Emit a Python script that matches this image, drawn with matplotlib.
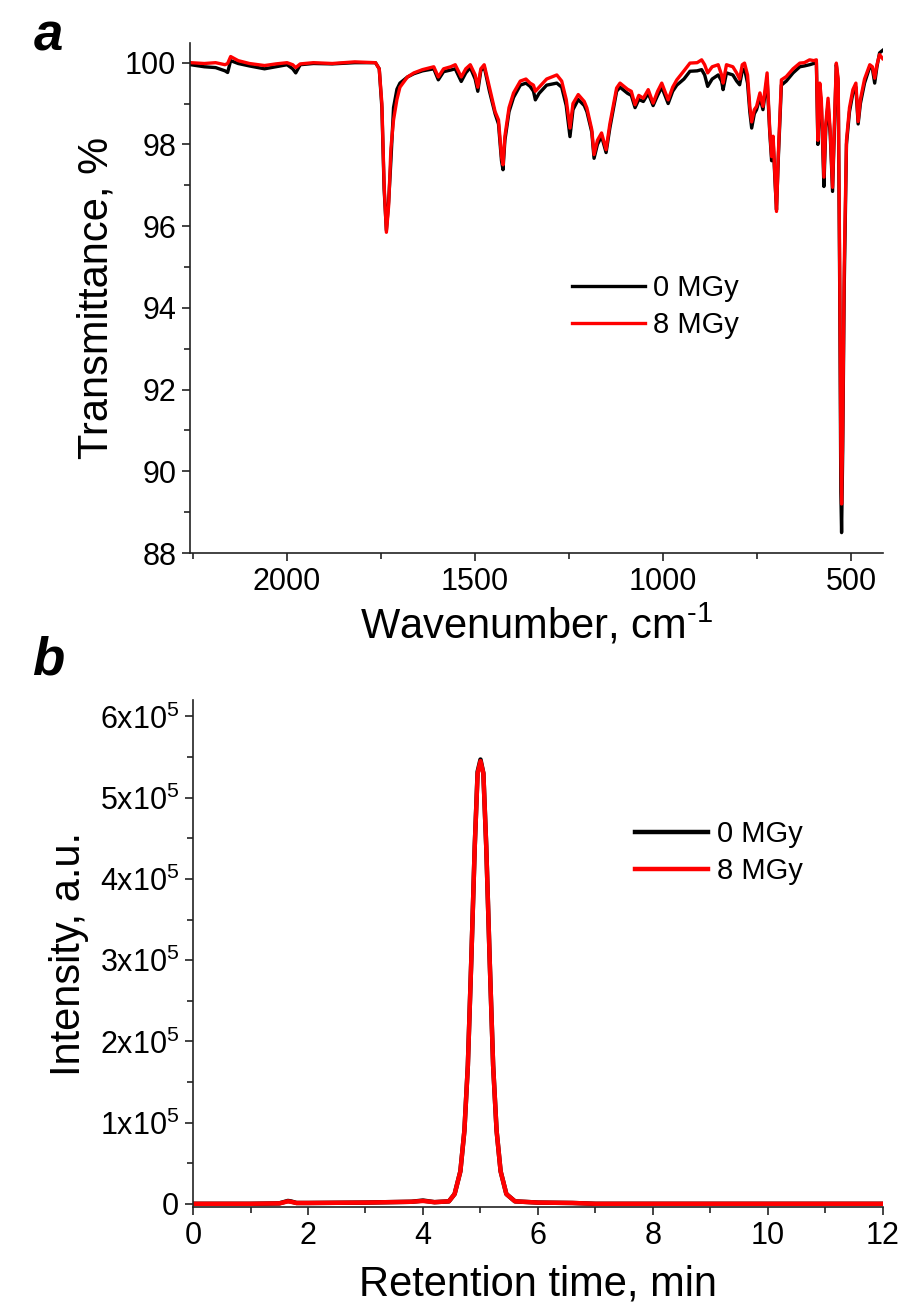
import numpy as np
import matplotlib
matplotlib.use("Agg")
import matplotlib.pyplot as plt
from matplotlib.ticker import MultipleLocator, FuncFormatter

plt.rcParams['font.family'] = ['Liberation Sans', 'DejaVu Sans']
plt.rcParams['mathtext.fontset'] = 'custom'
plt.rcParams['mathtext.rm'] = 'Liberation Sans'
plt.rcParams['mathtext.it'] = 'Liberation Sans:italic'

# IR spectra (wavenumber, cm-1) and transmittance (%)
wavenumber = [2256, 2220, 2190, 2165, 2158, 2150, 2130, 2100, 2060, 2030, 2000, 1985, 1977, 1965,
              1930, 1880, 1820, 1765, 1755, 1748, 1742, 1736, 1730, 1724, 1717, 1708, 1700, 1680,
              1663, 1640, 1610, 1598, 1584, 1565, 1553, 1537, 1525, 1513, 1500, 1493, 1485, 1476,
              1462, 1447, 1438, 1430, 1426, 1421, 1410, 1398, 1380, 1365, 1354, 1345, 1340, 1330,
              1310, 1283, 1270, 1258, 1248, 1240, 1226, 1210, 1203, 1190, 1184, 1175, 1164, 1152,
              1142, 1124, 1115, 1095, 1085, 1075, 1065, 1053, 1040, 1027, 1015, 1004, 987, 975,
              964, 945, 929, 910, 898, 890, 882, 870, 854, 845, 841, 832, 815, 805, 797, 790, 784,
              776, 770, 765, 758, 752, 743, 735, 730, 724, 717, 712, 708, 703, 699, 694, 686, 673,
              655, 637, 625, 611, 600, 593, 589, 584, 580, 576, 573, 568, 562, 556, 550, 545, 540,
              535, 531, 528, 526, 523, 519, 513, 505, 496, 488, 482, 476, 465, 451, 444, 438, 432,
              425, 417]
trans_8mgy = [100.00, 99.98, 100.00, 99.95, 99.98, 100.15, 100.05, 99.98, 99.93, 99.97, 100.00, 99.95,
              99.88, 99.97, 100.00, 99.98, 100.02, 100.00, 99.85, 99.0, 97.0, 95.85, 96.5, 97.9, 98.6,
              99.1, 99.4, 99.65, 99.75, 99.83, 99.9, 99.65, 99.85, 99.9, 99.95, 99.65, 99.85, 99.95,
              99.7, 99.4, 99.85, 99.95, 99.4, 98.8, 98.6, 97.7, 97.5, 98.2, 98.9, 99.26, 99.55, 99.6,
              99.5, 99.45, 99.3, 99.4, 99.6, 99.7, 99.55, 99.1, 98.4, 99.0, 99.22, 99.05, 98.89, 98.36,
              97.75, 98.1, 98.28, 97.87, 98.5, 99.38, 99.5, 99.35, 99.3, 98.97, 99.2, 99.13, 99.34,
              99.01, 99.3, 99.5, 99.09, 99.4, 99.58, 99.8, 99.99, 100.0, 100.07, 99.95, 99.75, 99.9,
              99.95, 99.7, 99.5, 99.95, 99.9, 99.75, 99.6, 99.95, 99.99, 99.7, 98.93, 98.55, 98.85,
              98.93, 99.26, 98.93, 99.3, 99.75, 98.36, 97.7, 98.2, 97.2, 96.36, 97.8, 99.58, 99.66,
              99.85, 99.99, 100.0, 100.07, 100.05, 100.07, 98.1, 99.5, 99.13, 98.0, 97.2, 98.5, 99.13,
              98.3, 96.95, 98.53, 99.99, 99.6, 95.0, 90.5, 89.2, 91.0, 95.0, 98.1, 98.9, 99.34, 99.5,
              98.56, 99.1, 99.6, 99.95, 99.9, 99.62, 99.95, 100.2, 100.1]
trans_0mgy = [99.95, 99.90, 99.88, 99.80, 99.76, 100.05, 99.98, 99.92, 99.85, 99.90, 99.95, 99.85,
              99.75, 99.95, 99.98, 99.97, 100.00, 100.00, 99.85, 98.9, 96.9, 95.9, 96.6, 97.6, 98.9,
              99.35, 99.5, 99.65, 99.73, 99.80, 99.85, 99.58, 99.78, 99.82, 99.85, 99.54, 99.75, 99.88,
              99.6, 99.3, 99.8, 99.9, 99.3, 98.75, 98.5, 97.6, 97.38, 98.1, 98.8, 99.15, 99.45, 99.5,
              99.42, 99.3, 99.09, 99.25, 99.45, 99.5, 99.4, 98.95, 98.19, 98.85, 99.1, 98.95, 98.8,
              98.3, 97.66, 98.0, 98.2, 97.8, 98.4, 99.3, 99.4, 99.25, 99.2, 98.9, 99.1, 99.05, 99.25,
              98.95, 99.2, 99.4, 99.0, 99.3, 99.45, 99.6, 99.79, 99.8, 99.83, 99.7, 99.42, 99.6, 99.7,
              99.55, 99.34, 99.75, 99.7, 99.55, 99.46, 99.8, 99.85, 99.5, 98.8, 98.4, 98.75, 98.85,
              99.15, 98.85, 99.2, 99.6, 98.3, 97.6, 98.1, 97.1, 96.4, 97.7, 99.45, 99.55, 99.75, 99.9,
              99.92, 99.95, 99.98, 100.0, 98.0, 99.3, 99.0, 97.9, 96.97, 98.4, 99.0, 98.2, 96.85, 98.4,
              99.95, 99.5, 94.5, 89.5, 88.5, 90.5, 94.5, 98.0, 98.8, 99.25, 99.4, 98.5, 99.0, 99.5,
              99.9, 99.85, 99.5, 99.9, 100.24, 100.3]

# chromatograms
ret_time = [0, 1.0, 1.5, 1.65, 1.7, 1.8, 2.0, 3.0, 3.8, 4.0, 4.2, 4.45, 4.55, 4.65, 4.72, 4.78,
            4.84, 4.9, 4.95, 5.0, 5.05, 5.1, 5.16, 5.22, 5.28, 5.35, 5.45, 5.6, 6.0, 6.6, 7.0, 12.0]
int_0mgy = [0, 0, 500, 3500, 3000, 1000, 1000, 1500, 2500, 4000, 2000, 3000, 12000, 40000, 90000,
            170000, 300000, 440000, 532000, 547000, 530000, 440000, 300000, 170000, 90000, 40000,
            12000, 3000, 1500, 1000, 0, 0]
int_8mgy = [0, 0, 500, 3000, 2500, 1000, 1000, 1500, 2500, 3500, 2000, 3000, 12000, 40000, 90000,
            170000, 300000, 440000, 530000, 545000, 530000, 440000, 300000, 170000, 90000, 40000,
            12000, 3000, 1500, 1000, 0, 0]

fig = plt.figure(figsize=(9.07, 13.13), dpi=100)
ax1 = fig.add_axes([0.2095, 0.5788, 0.764, 0.3884])
ax2 = fig.add_axes([0.2128, 0.0807, 0.7607, 0.386])

ax1.plot(wavenumber, trans_0mgy, color='black', lw=2.4, label='0 MGy')
ax1.plot(wavenumber, trans_8mgy, color='red', lw=2.4, label='8 MGy')
ax1.set_xlim(2258, 416)
ax1.set_ylim(88, 100.48)
ax1.xaxis.set_major_locator(MultipleLocator(500))
ax1.xaxis.set_minor_locator(MultipleLocator(250))
ax1.yaxis.set_major_locator(MultipleLocator(2))
ax1.yaxis.set_minor_locator(MultipleLocator(1))
ax1.set_xlabel(r'Wavenumber, cm$^{\text{-1}}$', fontsize=30, labelpad=4)
ax1.set_ylabel('Transmittance, %', fontsize=30, labelpad=6)
ax1.legend(loc='center left', bbox_to_anchor=(0.551, 0.483), frameon=False, fontsize=21,
           handlelength=2.5, handletextpad=0.3, labelspacing=0.3, borderpad=0, borderaxespad=0)

ax2.plot(ret_time, int_0mgy, color='black', lw=3.2, label='0 MGy')
ax2.plot(ret_time, int_8mgy, color='red', lw=3.2, label='8 MGy')
ax2.set_xlim(0, 12)
ax2.set_ylim(-4000, 6.2e5)
ax2.xaxis.set_major_locator(MultipleLocator(2))
ax2.xaxis.set_minor_locator(MultipleLocator(1))
ax2.yaxis.set_major_locator(MultipleLocator(1e5))
ax2.yaxis.set_minor_locator(MultipleLocator(5e4))
ax2.yaxis.set_major_formatter(FuncFormatter(
    lambda v, p: '0' if abs(v) < 1 else '%dx10$^{\\mathrm{5}}$' % round(v / 1e5)))
ax2.set_xlabel('Retention time, min', fontsize=30, labelpad=10)
ax2.set_ylabel('Intensity, a.u.', fontsize=30, labelpad=8)
ax2.legend(loc='center left', bbox_to_anchor=(0.641, 0.699), frameon=False, fontsize=21,
           handlelength=2.5, handletextpad=0.3, labelspacing=0.3, borderpad=0, borderaxespad=0)

for ax in (ax1, ax2):
    for side in ('top', 'right'):
        ax.spines[side].set_visible(False)
    for side in ('left', 'bottom'):
        ax.spines[side].set_linewidth(1.2)
        ax.spines[side].set_color('#222222')
    ax.tick_params(which='major', direction='out', length=6, width=1.2, labelsize=22,
                   color='#222222', pad=4)
    ax.tick_params(which='minor', direction='out', length=4, width=1.2, color='#222222')

fig.text(0.053, 0.972, 'a', fontsize=38, fontweight='bold', fontstyle='italic', ha='center', va='center')
fig.text(0.053, 0.497, 'b', fontsize=38, fontweight='bold', fontstyle='italic', ha='center', va='center')

fig.savefig('out.png', dpi=100)
